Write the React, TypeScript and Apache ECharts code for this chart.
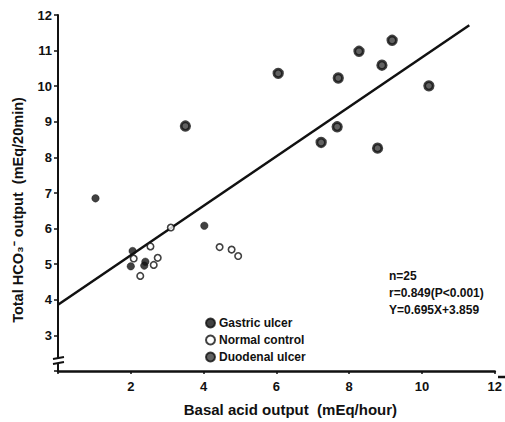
import React, { useEffect, useRef } from "react";
import * as echarts from "echarts";

const gastricUlcer: [number, number][] = [
  [1.03, 6.85],
  [2.05, 5.37],
  [2.0, 4.94],
  [2.4, 5.07],
  [2.37, 4.96],
  [4.02, 6.08],
];

const normalControl: [number, number][] = [
  [2.08, 5.16],
  [2.54, 5.5],
  [2.74, 5.18],
  [2.63, 4.98],
  [2.26, 4.67],
  [3.1, 6.03],
  [4.44, 5.48],
  [4.77, 5.41],
  [4.95, 5.23],
];

const duodenalUlcer: [number, number][] = [
  [3.5, 8.88],
  [6.05, 10.36],
  [7.7, 10.23],
  [8.27, 10.98],
  [9.18, 11.29],
  [8.9, 10.59],
  [10.19, 10.01],
  [7.67, 8.86],
  [7.23, 8.42],
  [8.78, 8.26],
];

const regressionLine: [number, number][] = [
  [0, 3.859],
  [11.3, 11.71],
];

const statLines = ["n=25", "r=0.849(P<0.001)", "Y=0.695X+3.859"];

const FONT = "Liberation Sans";

export default function App() {
  const ref = useRef<HTMLDivElement>(null);
  useEffect(() => {
    if (!ref.current) return;
    const chart = echarts.init(ref.current, null, { renderer: "svg" });
    chart.setOption({
      animation: false,
      backgroundColor: "#ffffff",
      grid: { left: 58, right: 7, top: 15, bottom: 45 },
      title: {
        text: statLines.join("\n"),
        left: 389,
        top: 267,
        textStyle: {
          fontFamily: FONT,
          fontSize: 12,
          fontWeight: "bold",
          color: "#111",
          lineHeight: 17,
        },
        padding: 0,
      },
      legend: {
        orient: "vertical",
        left: 205,
        top: 317,
        itemGap: 5,
        itemWidth: 9,
        itemHeight: 9,
        padding: 0,
        data: ["Gastric ulcer", "Normal control", "Duodenal ulcer"],
        textStyle: {
          fontFamily: FONT,
          fontSize: 12,
          fontWeight: "bold",
          color: "#111",
          padding: [0, 0, 0, -1],
        },
      },
      xAxis: {
        type: "value",
        min: 0,
        max: 12,
        interval: 2,
        name: "Basal acid output  (mEq/hour)",
        nameLocation: "middle",
        nameGap: 31,
        nameTextStyle: {
          fontFamily: FONT,
          fontSize: 15,
          fontWeight: "bold",
          color: "#111",
          padding: [0, 0, 0, 28],
        },
        splitLine: { show: false },
        axisLine: { onZero: false, lineStyle: { color: "#111", width: 2.5 } },
        axisTick: { show: true, length: 3, lineStyle: { color: "#111", width: 1.5 } },
        axisLabel: {
          fontFamily: FONT,
          fontSize: 13,
          fontWeight: "bold",
          color: "#111",
          margin: 9,
          formatter: (v: number) => (v === 0 ? "" : String(v)),
        },
      },
      yAxis: {
        type: "value",
        min: 2,
        max: 12,
        interval: 1,
        name: "Total HCO\u2083\u207B output  (mEq/20min)",
        nameLocation: "middle",
        nameGap: 33,
        nameTextStyle: {
          fontFamily: FONT,
          fontSize: 14.5,
          fontWeight: "bold",
          color: "#111",
          padding: [0, 34, 0, 0],
        },
        splitLine: { show: false },
        axisLine: { onZero: false, lineStyle: { color: "#111", width: 2 } },
        axisTick: {
          show: true,
          length: 4,
          lineStyle: { color: "#111", width: 1.5 },
        },
        axisLabel: {
          fontFamily: FONT,
          fontSize: 13,
          fontWeight: "bold",
          color: "#111",
          margin: 6,
          formatter: (v: number) => (v === 2 ? "" : String(v)),
        },
      },
      graphic: [
        {
          type: "line",
          shape: { x1: 498, y1: 377, x2: 505, y2: 377 },
          style: { stroke: "#111", lineWidth: 2.5 },
        },
        {
          type: "rect",
          shape: { x: 55, y: 359, width: 8, height: 4 },
          style: { fill: "#fff" },
          z: 100,
        },
        {
          type: "line",
          shape: { x1: 53, y1: 359, x2: 64, y2: 357 },
          style: { stroke: "#111", lineWidth: 1.8 },
          z: 101,
        },
        {
          type: "line",
          shape: { x1: 53, y1: 364, x2: 64, y2: 362 },
          style: { stroke: "#111", lineWidth: 1.8 },
          z: 101,
        },
      ],
      series: [
        {
          name: "Regression",
          type: "line",
          data: regressionLine,
          symbol: "none",
          lineStyle: { color: "#111", width: 2.5 },
          z: 1,
        },
        {
          name: "Gastric ulcer",
          type: "scatter",
          data: gastricUlcer,
          symbol: "circle",
          symbolSize: 7.5,
          itemStyle: { color: "#111", borderColor: "#111", borderWidth: 0.5 },
          z: 3,
        },
        {
          name: "Normal control",
          type: "scatter",
          data: normalControl,
          symbol: "circle",
          symbolSize: 6.5,
          itemStyle: { color: "#fff", borderColor: "#111", borderWidth: 1.6 },
          z: 3,
        },
        {
          name: "Duodenal ulcer",
          type: "scatter",
          data: duodenalUlcer,
          symbol: "circle",
          symbolSize: 8.5,
          itemStyle: { color: "#3a3a3a", borderColor: "#111", borderWidth: 2.8 },
          z: 3,
        },
      ],
    });
    return () => chart.dispose();
  }, []);
  return (
    <div
      ref={ref}
      style={{ position: "absolute", left: 0, top: 0, width: 505, height: 422 }}
    />
  );
}
